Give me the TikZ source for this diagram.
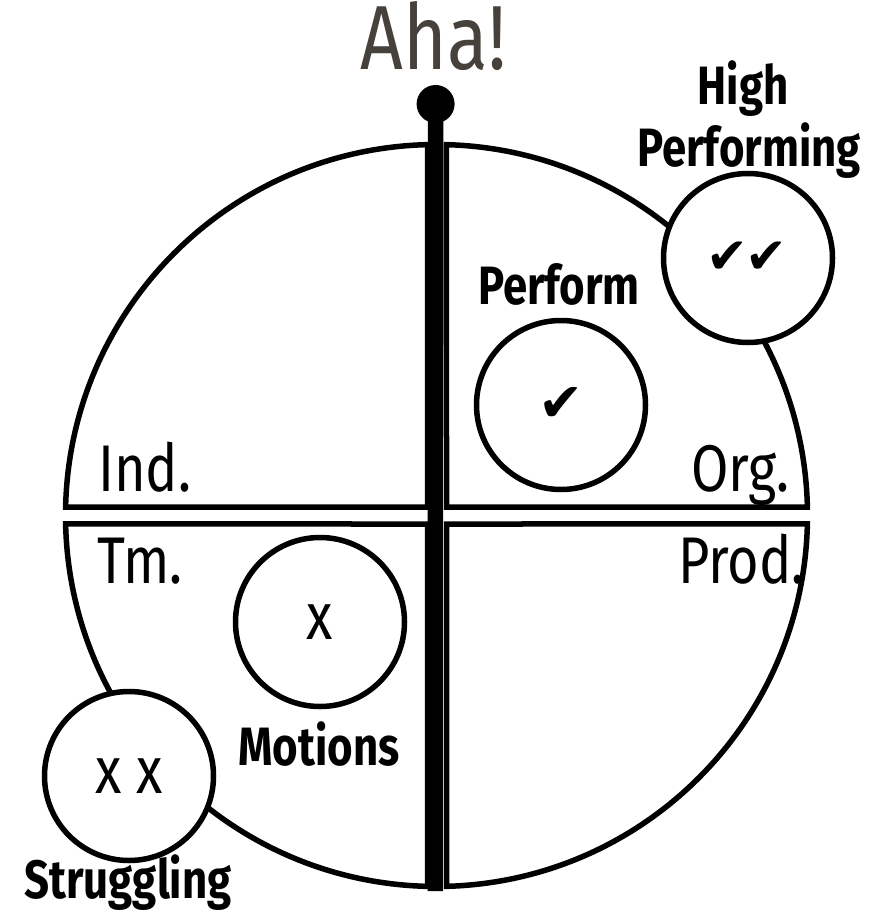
\documentclass[tikz,border=0pt]{standalone}
\usepackage{fontspec}
\usetikzlibrary{positioning}
\newfontfamily\lightfont[FakeStretch=0.82]{Fira Sans}
\newfontfamily\heavyfont[FakeStretch=0.81]{Fira Sans}
\newfontfamily\symfont{DejaVu Sans}
\definecolor{ahagray}{HTML}{46413B}

\begin{document}
\begin{tikzpicture}[x=1pt, y=1pt,
    quad/.style={draw, line width=5.5pt, fill=white},
    ring/.style={circle, draw, line width=5.5pt, fill=white, minimum size=169pt, inner sep=0pt},
    corner/.style={inner sep=0pt, font=\lightfont\fontsize{66}{66}\selectfont},
    heading/.style={inner sep=0pt, align=center, font=\heavyfont\bfseries\fontsize{54}{62}\selectfont},
    tick/.style={inner sep=0pt, font=\symfont\fontsize{54}{54}\selectfont}
  ]
  \useasboundingbox (0,0) rectangle (876,-912);
  \coordinate (centre) at (436.5,-515.5);

  % four quarters of the big circle
  \draw[quad] (centre) ++(1.31:371pt) arc[start angle=1.31, end angle=88.46, radius=371pt] -- (446.5,-507) -- cycle;
  \draw[quad] (centre) ++(91.39:371pt) arc[start angle=91.39, end angle=178.69, radius=371pt] -- (427.5,-507) -- cycle;
  \draw[quad] (centre) ++(181.31:371pt) arc[start angle=181.31, end angle=268.61, radius=371pt] -- (427.5,-524) -- cycle;
  \draw[quad] (centre) ++(271.55:371pt) arc[start angle=271.55, end angle=358.69, radius=371pt] -- (446.5,-524) -- cycle;

  % the pole
  \node[circle, fill, minimum size=38pt, inner sep=0pt] (knob) at (435.6,-104) {};
  \coordinate (base) at (435.25,-891);
  \draw[line width=15.5pt] (knob.center) -- (base);
  \node[inner sep=0pt, anchor=base, text=ahagray, font=\lightfont\fontsize{91}{91}\selectfont] (aha) at (433.5,-70) {Aha!};

  % quarter names
  \node[corner, anchor=base west] (ind) at (98,-491) {Ind.};
  \node[corner, anchor=base east] (org) at (790,-491) {Org.};
  \node[corner, anchor=base west] (tm) at (97,-583) {Tm.};
  \node[corner, anchor=base east] (prod) at (805,-583) {Prod.};

  % small circles
  \node[ring] (perform) at (561,-405) {};
  \node[ring] (highperf) at (748,-258) {};
  \node[ring] (motions) at (320,-622) {};
  \node[ring] (struggling) at (129,-776) {};

  \node[tick] (tick1) at (561,-404) {✔};
  \node[tick, font=\symfont\fontsize{50}{50}\selectfont] (tick2) at (747,-258) {✔\kern-3pt✔};
  \node[corner] (cross1) at (320,-622) {x};
  \node[corner] (cross2) at (129,-776) {x x};

  \node[heading, anchor=base] (performlabel) at (559,-304) {Perform};
  \node[heading, anchor=base] (highlabel) at (749,-167) {Performing};
  \node[heading, anchor=base] (highlabel2) at (743,-105) {High};
  \node[heading, anchor=base] (motionslabel) at (319,-765) {Motions};
  \node[heading, anchor=base] (strugglinglabel) at (128,-898) {Struggling};
\end{tikzpicture}
\end{document}
